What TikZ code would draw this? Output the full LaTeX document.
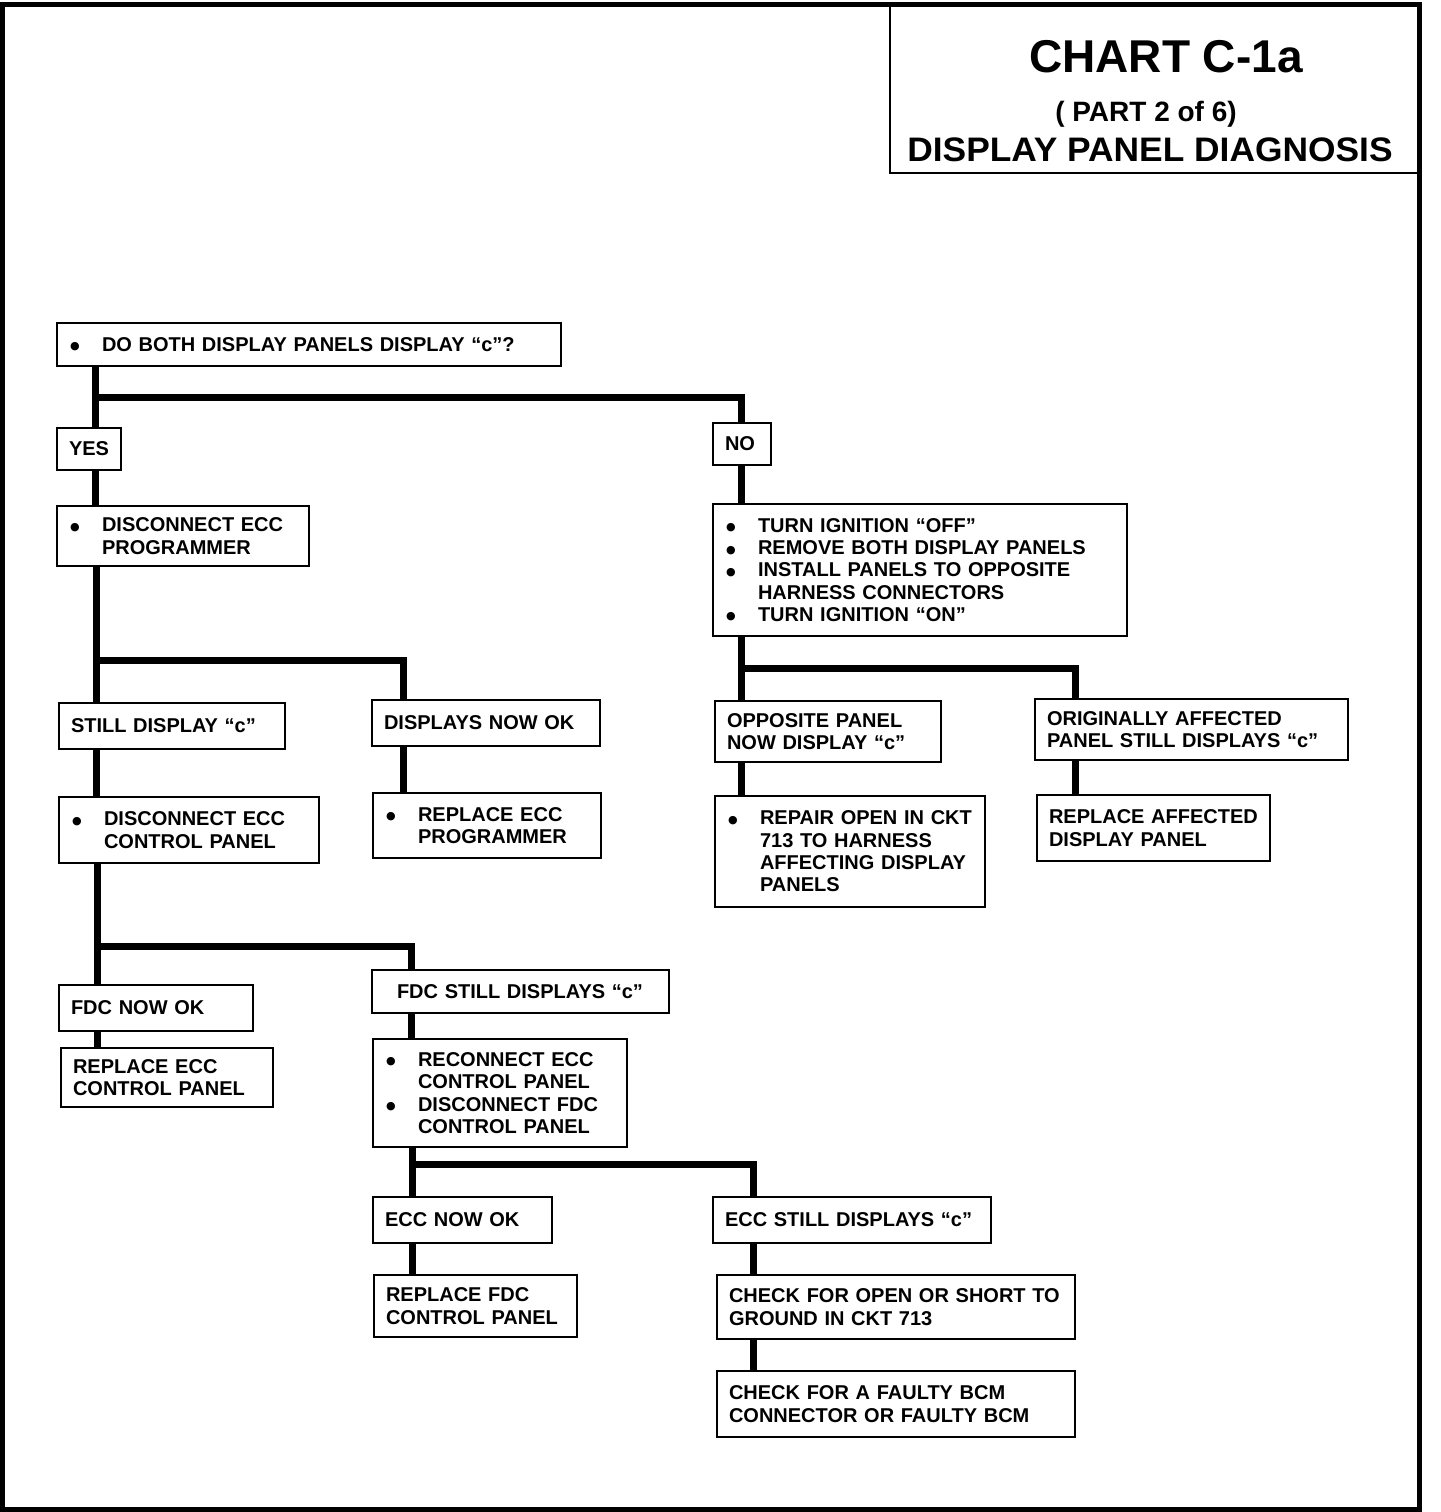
\documentclass[tikz,border=0pt]{standalone}
\usepackage{fontspec}
\setmainfont{Liberation Sans}
\newfontfamily\symfont{DejaVu Sans}
\usepackage{graphicx}
\newcommand\bdot{\raisebox{1.5pt}{\symfont\fontsize{11}{11}\selectfont ●}}
\newcommand\bl[1]{\mbox{\makebox[33pt][l]{\hspace*{1pt}\bdot}#1}}
\newcommand\il[1]{\mbox{\hspace*{33pt}#1}}
\newcommand\pl[1]{\mbox{#1}}
\newcommand\bx[6]{%
  \pgfmathsetmacro\bw{#4-#2}\pgfmathsetmacro\bh{#5-#3}\pgfmathsetmacro\tw{#4-#2-24}%
  \node[box, minimum width=\bw pt, minimum height=\bh pt, text width=\tw pt] (#1) at ({(#2+#4)/2},{(#3+#5)/2}) {#6};}
\begin{document}
\begin{tikzpicture}[x=1pt,y=-1pt,
  box/.style={draw, line width=2pt, inner xsep=12pt, inner ysep=0pt, align=left,
    font=\bfseries\fontsize{20}{22.3}\selectfont},
  conn/.style={line width=7pt},
  frame/.style={line width=5pt},
  titlebox/.style={draw, line width=2.5pt, inner sep=0pt},
  ttl/.style={anchor=base, inner sep=0pt}]
\useasboundingbox (0,0) rectangle (1440,1512);

% title
\node[titlebox, minimum width=529pt, minimum height=168pt] (tbox) at (1154.5,89) {};
\node[ttl, font=\bfseries\fontsize{46}{50}\selectfont] (t1) at (1166,72) {CHART C-1a};
\node[ttl, font=\bfseries\fontsize{28}{30}\selectfont] (t2) at (1146,121) {( PART 2 of 6)};
\node[ttl, font=\bfseries\fontsize{34}{36}\selectfont] (t3) at (1150,161) {\scalebox{1.04}[1]{DISPLAY PANEL DIAGNOSIS}};

% boxes
\bx{q}{57}{323}{561}{366}{\bl{DO BOTH DISPLAY PANELS DISPLAY “c”?}}
\bx{yes}{57}{428}{121}{470}{\pl{YES}}
\bx{dis1}{57}{506}{309}{566}{\bl{DISCONNECT ECC}\\\il{PROGRAMMER}}
\bx{still}{59}{703}{285}{749}{\pl{STILL DISPLAY “c”}}
\bx{ok1}{372}{700}{600}{746}{\pl{DISPLAYS NOW OK}}
\bx{rep1}{373}{793}{601}{858}{\bl{REPLACE ECC}\\\il{PROGRAMMER}}
\bx{dis2}{59}{797}{319}{863}{\bl{DISCONNECT ECC}\\\il{CONTROL PANEL}}
\bx{fdcok}{59}{985}{253}{1031}{\pl{FDC NOW OK}}
\bx{rep2}{61}{1048}{273}{1107}{\pl{REPLACE ECC}\\\pl{CONTROL PANEL}}
\bx{fdcst}{372}{970}{669}{1013}{\pl{\hspace*{13pt}FDC STILL DISPLAYS “c”}}
\bx{recon}{373}{1039}{627}{1147}{\bl{RECONNECT ECC}\\\il{CONTROL PANEL}\\\bl{DISCONNECT FDC}\\\il{CONTROL PANEL}}
\bx{eccok}{373}{1197}{552}{1243}{\pl{ECC NOW OK}}
\bx{rep3}{374}{1275}{577}{1337}{\pl{REPLACE FDC}\\\pl{CONTROL PANEL}}
\bx{eccst}{713}{1197}{991}{1243}{\pl{ECC STILL DISPLAYS “c”}}
\bx{chk1}{717}{1275}{1075}{1339}{\pl{CHECK FOR OPEN OR SHORT TO}\\\pl{GROUND IN CKT 713}}
\bx{chk2}{717}{1371}{1075}{1437}{\pl{CHECK FOR A FAULTY BCM}\\\pl{CONNECTOR OR FAULTY BCM}}
\bx{no}{713}{423}{771}{465}{\pl{NO}}
\bx{noact}{713}{504}{1127}{636}{\bl{TURN IGNITION “OFF”}\\\bl{REMOVE BOTH DISPLAY PANELS}\\\bl{INSTALL PANELS TO OPPOSITE}\\\il{HARNESS CONNECTORS}\\\bl{TURN IGNITION “ON”}}
\bx{opp}{715}{701}{941}{762}{\pl{OPPOSITE PANEL}\\\pl{NOW DISPLAY “c”}}
\bx{rep4}{715}{796}{985}{907}{\bl{REPAIR OPEN IN CKT}\\\il{713 TO HARNESS}\\\il{AFFECTING DISPLAY}\\\il{PANELS}}
\bx{orig}{1035}{699}{1348}{760}{\pl{ORIGINALLY AFFECTED}\\\pl{PANEL STILL DISPLAYS “c”}}
\bx{rep5}{1037}{795}{1270}{861}{\pl{REPLACE AFFECTED}\\\pl{DISPLAY PANEL}}

% junctions and columns
\coordinate (j1) at (95,397);
\coordinate (j2) at (96,660);
\coordinate (j3) at (97,946);
\coordinate (j4) at (412,1164);
\coordinate (j5) at (741,668);
\coordinate (cB) at (403,0);
\coordinate (cB2) at (411,0);
\coordinate (cE) at (753,0);
\coordinate (cD) at (1075,0);

% connectors
\draw[conn] (q.south -| j1) -- (yes.north -| j1);
\draw[conn] (j1) -| (no.north -| j5);
\draw[conn] (yes.south -| j1) -- (dis1.north -| j1);
\draw[conn] (dis1.south -| j2) -- (still.north -| j2);
\draw[conn] (j2) -| (ok1.north -| cB);
\draw[conn] (ok1.south -| cB) -- (rep1.north -| cB);
\draw[conn] (still.south -| j2) -- (dis2.north -| j2);
\draw[conn] (dis2.south -| j3) -- (fdcok.north -| j3);
\draw[conn] (j3) -| (fdcst.north -| cB2);
\draw[conn] (fdcok.south -| j3) -- (rep2.north -| j3);
\draw[conn] (fdcst.south -| cB2) -- (recon.north -| cB2);
\draw[conn] (recon.south -| j4) -- (eccok.north -| j4);
\draw[conn] (j4) -| (eccst.north -| cE);
\draw[conn] (eccok.south -| j4) -- (rep3.north -| j4);
\draw[conn] (eccst.south -| cE) -- (chk1.north -| cE);
\draw[conn] (chk1.south -| cE) -- (chk2.north -| cE);
\draw[conn] (no.south -| j5) -- (noact.north -| j5);
\draw[conn] (noact.south -| j5) -- (opp.north -| j5);
\draw[conn] (j5) -| (orig.north -| cD);
\draw[conn] (opp.south -| j5) -- (rep4.north -| j5);
\draw[conn] (orig.south -| cD) -- (rep5.north -| cD);

% outer frame
\draw[frame] (2.5,5) rectangle (1419.5,1509.5);
\end{tikzpicture}
\end{document}
